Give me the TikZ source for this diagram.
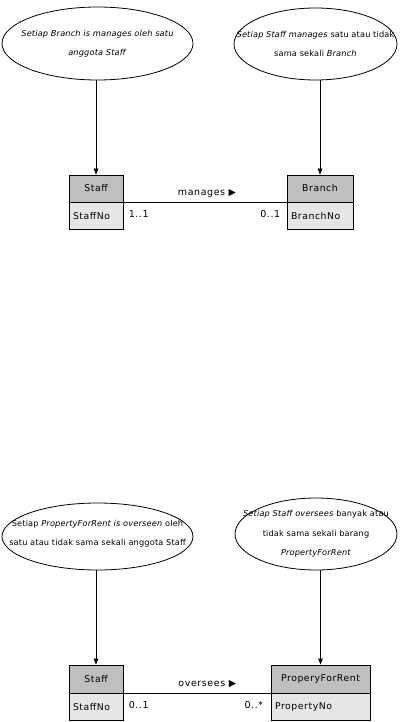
\documentclass[tikz,border=0pt]{standalone}
\usepackage{fontspec}
\setmainfont{DejaVu Sans}[LetterSpace=6]
\newfontfamily\notefont{DejaVu Sans}[LetterSpace=2]
\usetikzlibrary{arrows.meta,positioning,shapes.geometric}
\definecolor{hdrgray}{HTML}{BFBFBF}
\definecolor{attrgray}{HTML}{E6E6E6}

\begin{document}
\begin{tikzpicture}[>={Triangle[width=4.5pt,length=6pt]},x=1pt,y=-1pt,line width=0.8pt,
  bubble/.style={draw,ellipse,inner sep=0pt},
  notetext/.style={align=center,inner sep=0pt,font=\notefont\fontsize{8.2}{19.5}\selectfont},
  hdr/.style={draw,fill=hdrgray,minimum width=#1,minimum height=27pt,inner sep=0pt,font=\fontsize{9.3}{11}\selectfont},
  attr/.style={draw,fill=attrgray,text width=#1,inner xsep=4pt,inner ysep=0pt,minimum height=27pt,align=left,font=\fontsize{9.3}{11}\selectfont},
  mult/.style={inner sep=0pt,font=\fontsize{9.5}{11}\selectfont}]
\useasboundingbox (0,0) rectangle (408,722);

\node[bubble,minimum width=191pt,minimum height=73pt] (brNote) at (97.5,43.5) {};
\node[notetext] at (brNote.center) {\textit{Setiap Branch is manages oleh satu}\\\textit{anggota Staff}};
\node[bubble,minimum width=163pt,minimum height=72pt] (stNote) at (315.5,44) {};
\node[notetext] at (stNote.center) {\textit{Setiap Staff manages} satu atau tidak\\sama sekali \textit{Branch}};

\node[hdr=54pt] (staffA) at (96,188.5) {Staff};
\node[attr=46pt,below=0pt of staffA] (staffANo) {StaffNo};
\node[hdr=66pt] (branchA) at (320,188.5) {Branch};
\node[attr=58pt,below=0pt of branchA] (branchANo) {BranchNo};

\draw[->] (brNote.south -| staffA.north) -- (staffA.north);
\draw[->] (stNote.south -| branchA.north) -- (branchA.north);
\draw (staffA.south east) -- (branchA.south west)
  node[mult,midway,yshift=9pt,xshift=2pt] {manages ▶}
  node[mult,pos=0,anchor=west,xshift=5pt,yshift=-12pt] {1..1}
  node[mult,pos=1,anchor=east,xshift=-6pt,yshift=-12pt] {0..1};

\node[bubble,minimum width=191pt,minimum height=67pt] (prNote) at (97.5,536.5) {};
\node[notetext] at ([yshift=3pt]prNote.center) {Setiap \textit{PropertyForRent is overseen} oleh\\satu atau tidak sama sekali anggota Staff};
\node[bubble,minimum width=162pt,minimum height=72pt] (ovNote) at (316,534) {};
\node[notetext] at (ovNote.center) {\textit{Setiap Staff oversees} banyak atau\\tidak sama sekali barang\\\textit{PropertyForRent}};

\node[hdr=54pt,minimum height=28pt] (staffB) at (96,679) {Staff};
\node[attr=46pt,below=0pt of staffB] (staffBNo) {StaffNo};
\node[hdr=99pt,minimum height=28pt] (propB) at (320.5,679) {ProperyForRent};
\node[attr=91pt,below=0pt of propB] (propBNo) {PropertyNo};

\draw[->] (prNote.south -| staffB.north) -- (staffB.north);
\draw[->] (ovNote.south -| propB.north) -- (propB.north);
\draw (staffB.south east) -- (propB.south west)
  node[mult,pos=0.57,yshift=9pt] {oversees ▶}
  node[mult,pos=0,anchor=west,xshift=5pt,yshift=-12pt] {0..1}
  node[mult,pos=1,anchor=east,xshift=-7pt,yshift=-12pt] {0..*};
\end{tikzpicture}
\end{document}
